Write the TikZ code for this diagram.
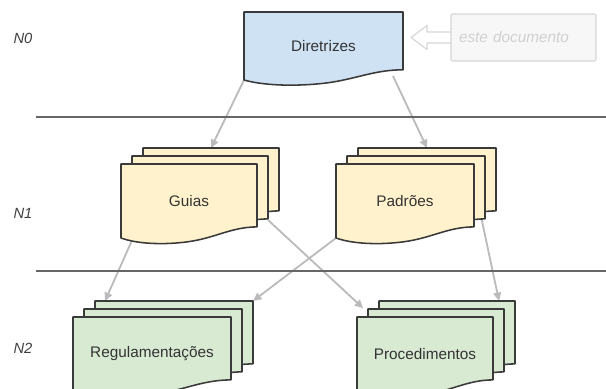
\documentclass[tikz,border=0pt]{standalone}
\usepackage{fontspec}
\setmainfont{Liberation Sans}
\usetikzlibrary{arrows.meta,calc,backgrounds}

\definecolor{dirblue}{HTML}{CFE2F3}
\definecolor{guiayellow}{HTML}{FFF2CC}
\definecolor{regreen}{HTML}{D9EAD3}
\definecolor{pageedge}{HTML}{3A3A3A}
\definecolor{linkgray}{HTML}{BBBBBB}
\definecolor{levelgray}{HTML}{666666}
\definecolor{notegray}{HTML}{D6D6D6}
\definecolor{notetext}{HTML}{D0D0D0}

\tikzset{
  pageline/.style={draw=pageedge, line width=1.1pt, line join=round},
  pagebox/.style={inner sep=0pt, outer sep=0pt, anchor=north west,
    text=black!80, font=\fontsize{10.9}{13}\selectfont},
  link/.style={draw=linkgray, line width=1.3pt, -{Triangle[length=6pt,width=5.5pt]}},
  level/.style={draw=levelgray, line width=1.7pt},
  levelname/.style={text=black!75, font=\itshape\fontsize{10.5}{12}\selectfont},
  note/.style={draw=notegray, fill=black!3, line width=0.8pt, rounded corners=1pt,
    inner xsep=0.2cm, text width=3.225cm, minimum height=1.175cm, align=left,
    text=notetext, font=\itshape\fontsize{10.9}{13}\selectfont},
  pointer/.style={draw=notegray, fill=white, line width=0.8pt, line join=round},
}

% one document page: name, top-left corner, width, height, fill, text
\newcommand{\docpage}[6]{%
  \begin{scope}[shift={#2}, x=#3cm, y=-#4cm]
    \draw[pageline, fill=#5] (0,0) -- (1,0) -- (1,.85)
      .. controls (.8,.85) and (.68,1.02) .. (.45,1.06)
      .. controls (.3,1.09) and (.12,1.08) .. (0,1) -- cycle;
  \end{scope}
  \node[pagebox, minimum width=#3cm, minimum height=#4cm] (#1) at #2 {#6};}

% three pages stacked: name, x, y, width, fill, text
\newcommand{\docstack}[6]{%
  \docpage{#1 b}{({#2+0.55},{#3+0.4})}{#4}{1.85}{#5}{}
  \docpage{#1 m}{({#2+0.275},{#3+0.2})}{#4}{1.85}{#5}{}
  \docpage{#1}{(#2,#3)}{#4}{1.85}{#5}{#6}}

\begin{document}
\begin{tikzpicture}
  \useasboundingbox (0,0) rectangle (15.15,-9.725);

  % levels
  \node[levelname] (n0) at (0.575,-0.95) {N0};
  \node[levelname] (n1) at (0.575,-5.325) {N1};
  \node[levelname] (n2) at (0.575,-8.7) {N2};

  % documents
  \docpage{dir}{(6.1,-0.3)}{3.975}{1.7}{dirblue}{Diretrizes}
  \docstack{guias}{3.025}{-4.1}{3.4}{guiayellow}{Guias}
  \docstack{padroes}{8.4}{-4.1}{3.45}{guiayellow}{Padrões}
  \docstack{regul}{1.825}{-7.925}{3.95}{regreen}{Regulamentações}
  \docstack{proced}{8.925}{-7.925}{3.4}{regreen}{Procedimentos}

  % pointer to this document
  \draw[pointer] ($(13.0875,-0.9375)+(-1.8125,0.1375)$) -- ++(-0.6,0) -- ++(0,0.1625)
    -- ++(-0.4,-0.3) -- ++(0.4,-0.3) -- ++(0,0.1625) -- ++(0.6,0);
  \node[note] (note) at (13.0875,-0.9375) {este documento};

  \begin{pgfonlayer}{background}
    \draw[link] (dir.south west) -- (guias b.north);
    \draw[link] ($(dir.south east)+(-0.25,0.1)$) -- (padroes b.north);
    \draw[link] ($(guias.south west)+(0.3,0)$) -- ($(regul b.north west)+(0.25,0)$);
    \draw[link] (padroes.south west) -- (regul b.north east);
    \draw[link] ($(guias m.south east)+(0,0.25)$) -- ($(proced m.north west)+(-0.12,0.02)$);
    \draw[link] ($(padroes m.south east)+(-0.08,0.25)$) -- ($(proced b.north east)+(-0.4,0)$);
    % level separators
    \draw[level] (0.9,-2.925) -- (15.15,-2.925);
    \draw[level] (0.9,-6.775) -- (15.15,-6.775);
  \end{pgfonlayer}
\end{tikzpicture}
\end{document}
